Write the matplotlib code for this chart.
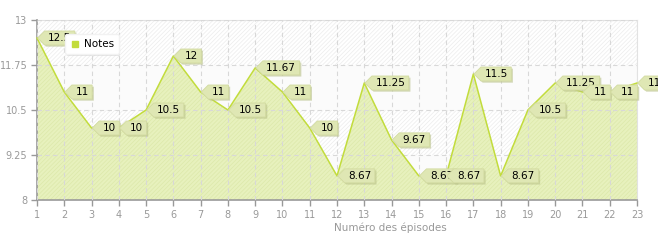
import numpy as np
import matplotlib
matplotlib.use("Agg")
import matplotlib.pyplot as plt
from matplotlib.path import Path
from matplotlib.lines import Line2D
import matplotlib.patheffects as pe

# Données
episodes = list(range(1, 24))
notes = [12.5, 11, 10, 10, 10.5, 12, 11, 10.5, 11.67, 11, 10, 8.67,
         11.25, 9.67, 8.67, 8.67, 11.5, 8.67, 10.5, 11.25, 11, 11, 11.25]
etiquettes = ["12.5", "11", "10", "10", "10.5", "12", "11", "10.5", "11.67", "11",
              "10", "8.67", "11.25", "9.67", "8.67", "8.67", "11.5", "8.67", "10.5",
              "11.25", "11", "11", "11.25"]
y_ticks = [8, 9.25, 10.5, 11.75, 13]

LIGNE = "#c2dc3c"
REMPLI = "#e7f1bd"
BULLE = "#dfe7b4"
GRIS = "#999999"

plt.rcParams["font.family"] = ["Verdana", "DejaVu Sans"]
plt.rcParams["hatch.linewidth"] = 0.5


def bulle(x0, y0, width, height, mutation_size):
    """Forme de bulle avec une pointe vers la gauche (en pixels)."""
    pad_x, pad_y = 3.5, 2
    fleche = 7
    gauche = x0 - pad_x
    droite = x0 + width + pad_x
    bas = y0 - pad_y
    haut = y0 + height + pad_y
    yc = (bas + haut) / 2
    verts = [(gauche - fleche, yc), (gauche, haut), (droite, haut),
             (droite, bas), (gauche, bas), (gauche - fleche, yc)]
    codes = [Path.MOVETO] + [Path.LINETO] * 4 + [Path.CLOSEPOLY]
    return Path(verts, codes)


fig = plt.figure(figsize=(6.58, 2.4), dpi=100)
ax = fig.add_axes([37 / 658, 40 / 240, 600 / 658, 180 / 240])

# bandes hachurées du fond
for i in range(len(y_ticks) - 1):
    if i % 2 == 1:
        ax.axhspan(y_ticks[i], y_ticks[i + 1], facecolor="white",
                   edgecolor="#ececec", hatch="////////", lw=0, zorder=0)
    else:
        ax.axhspan(y_ticks[i], y_ticks[i + 1], facecolor="#fbfbfb", lw=0, zorder=0)

# aire + ligne
ax.fill_between(episodes, notes, 8, facecolor=REMPLI, edgecolor="#dce8aa",
                hatch="////////", lw=0, zorder=1)
ax.plot(episodes, notes, color=LIGNE, lw=1.1, zorder=3, clip_on=False)

# grille
ax.set_xticks(episodes)
ax.set_yticks(y_ticks)
ax.set_yticklabels(["8", "9.25", "10.5", "11.75", "13"])
ax.grid(True, color="#d8d8d8", ls=(0, (4, 3)), lw=0.8, zorder=2)
ax.set_axisbelow(False)
for gl in ax.get_xgridlines() + ax.get_ygridlines():
    gl.set_zorder(2)

ax.set_xlim(1, 23)
ax.set_ylim(8, 13)

for s in ["top", "right"]:
    ax.spines[s].set_color("#e2e2e2")
for s in ["left", "bottom"]:
    ax.spines[s].set_color(GRIS)
    ax.spines[s].set_linewidth(1.2)
ax.tick_params(axis="both", colors=GRIS, labelsize=7, length=4, width=1,
               direction="out")
ax.tick_params(axis="x", pad=3)
ax.tick_params(axis="y", pad=3)

# étiquettes des points
for x, y, t in zip(episodes, notes, etiquettes):
    a = ax.annotate(t, (x, y), xytext=(8, 0), textcoords="offset points",
                    ha="left", va="center", fontsize=7.5, color="black",
                    bbox=dict(boxstyle=bulle, fc=BULLE, ec="#d2dba0", lw=0.6),
                    zorder=5, annotation_clip=False)
    a.get_bbox_patch().set_path_effects(
        [pe.SimplePatchShadow(offset=(1.2, -1.2), shadow_rgbFace="#b8c088", alpha=0.6),
         pe.Normal()])

# légende
poignee = Line2D([], [], color=LIGNE, marker="s", ls="none", markersize=4)
leg = ax.legend([poignee], ["Notes"], loc="upper left",
                bbox_to_anchor=(28 / 600, 1 - 14 / 180), fontsize=7.5,
                frameon=True, fancybox=True, shadow=False, handletextpad=0.3,
                borderpad=0.5, handlelength=1.0, borderaxespad=0)
leg.get_frame().set_edgecolor("#f2f2f2")
leg.get_frame().set_facecolor("white")
leg.get_frame().set_alpha(1)
leg.get_frame().set_path_effects(
    [pe.SimplePatchShadow(offset=(1, -1), shadow_rgbFace="#cccccc", alpha=0.5), pe.Normal()])
leg.set_zorder(10)

fig.text(390 / 658, 1 - 228 / 240, "Numéro des épisodes", ha="center", va="center",
         fontsize=7.5, color=GRIS)

fig.savefig("out.png", dpi=100)
